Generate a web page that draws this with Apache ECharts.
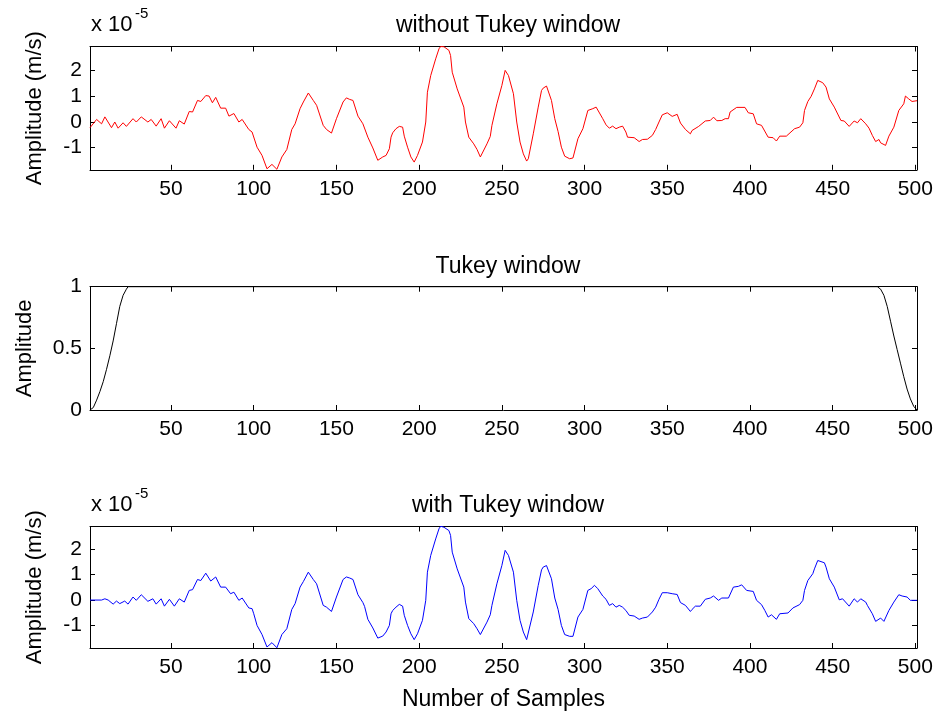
<!DOCTYPE html>
<html>
<head>
<meta charset="utf-8">
<script src="https://cdn.jsdelivr.net/npm/echarts@6/dist/echarts.min.js"></script>
<style>
html,body{margin:0;padding:0;background:#fff;}
#chart{width:939px;height:716px;}
</style>
</head>
<body>
<div id="chart"></div>
<script>
// ---- Data (amplitudes in units of 1e-5 m/s) ----
const rawSamples = [1,5,8,10,14,16,18,21,23,27,29,32,36,38,41,44,46,49,53,55,58,61,63,66,68,71,73,75,77,80,83,85,88,91,93,97,99,102,105,108,111,114,117,120,123,125,128,130,133,136,138,142,144,147,150,154,156,158,160,163,166,167,169,172,175,178,180,182,183,184,186,188,190,191,193,195,197,199,202,204,205,207,210,212,213,215,218,219,220,223,227,228,230,233,235,237,238,241,243,244,247,250,252,254,257,259,261,263,265,266,269,272,274,275,277,278,280,282,284,286,288,291,293,296,299,302,305,307,311,313,315,317,319,321,323,325,326,330,333,335,338,341,343,345,347,350,353,356,358,361,364,365,369,373,376,378,380,383,385,387,388,392,397,399,402,404,407,411,414,416,418,422,427,430,432,433,435,437,439,441,444,446,448,451,455,457,460,463,465,467,470,472,474,476,478,479,482,484,487,490,493,494,496,498,499,501];
const rawAmp = [-0.23,0.09,-0.08,0.19,-0.23,-0.01,-0.25,-0.04,-0.18,0.12,-0.01,0.19,-0.01,0.09,-0.17,0.12,-0.25,0.04,-0.25,0.04,-0.09,0.40,0.38,0.83,0.79,1.02,1.0,0.74,0.95,0.53,0.53,0.22,0.32,-0.01,0.09,-0.30,-0.40,-0.99,-1.31,-1.83,-1.66,-1.85,-1.37,-1.08,-0.30,-0.08,0.51,0.77,1.12,0.83,0.64,-0.14,-0.30,-0.44,0.12,0.77,0.93,0.87,0.83,0.22,-0.08,-0.14,-0.6,-1.02,-1.5,-1.37,-1.31,-1.05,-0.6,-0.43,-0.27,-0.18,-0.21,-0.56,-0.99,-1.37,-1.57,-1.31,-0.79,-0.01,1.15,1.8,2.45,2.84,2.93,2.92,2.78,2.58,1.93,1.28,0.57,-0.01,-0.6,-0.86,-1.08,-1.37,-1.34,-0.86,-0.57,-0.14,0.70,1.41,2.0,1.8,1.09,-0.01,-0.79,-1.25,-1.53,-1.44,-0.47,0.57,1.22,1.31,1.39,1.35,0.83,0.12,-0.38,-0.99,-1.34,-1.44,-1.41,-0.66,-0.27,0.44,0.51,0.57,0.12,-0.12,-0.25,-0.17,-0.27,-0.21,-0.17,-0.40,-0.6,-0.62,-0.77,-0.69,-0.68,-0.53,-0.30,-0.01,0.27,0.35,0.21,0.29,-0.05,-0.30,-0.47,-0.34,-0.18,0.03,0.05,0.18,0.04,0.05,0.12,0.12,0.38,0.56,0.56,0.35,0.31,-0.08,-0.14,-0.60,-0.62,-0.75,-0.56,-0.56,-0.27,-0.21,-0.04,0.44,0.79,0.99,1.28,1.61,1.52,1.35,0.89,0.57,0.05,0.03,-0.18,0.03,-0.04,0.12,-0.08,-0.25,-0.53,-0.77,-0.69,-0.82,-0.92,-0.56,-0.21,0.44,0.70,1.0,0.89,0.79,0.86,0.82];

const winSamples = [1,3,5,7,9,11,13,15,17,19,21,23,24,477,479,481,483,485,487,489,491,493,495,497,499,501];
const winAmp = [0,0.02,0.08,0.15,0.23,0.33,0.44,0.56,0.70,0.84,0.93,0.98,1.0,1.0,0.98,0.93,0.84,0.72,0.60,0.49,0.38,0.27,0.17,0.09,0.03,0];

const tapSamples = [1,8,10,12,15,17,19,22,24,27,29,32,36,39,41,44,46,49,52,55,58,61,63,66,68,71,72,74,77,80,83,86,88,91,93,97,99,100,102,105,108,111,114,117,120,123,125,128,130,133,136,138,142,144,147,150,154,156,158,160,163,166,167,169,172,175,178,180,182,183,184,186,188,190,191,193,195,197,199,202,204,205,207,210,212,213,215,218,219,220,223,227,228,230,233,235,237,238,241,243,244,247,250,252,254,257,259,261,263,265,266,269,272,274,275,277,278,280,282,284,286,288,291,293,296,299,302,304,306,308,311,313,315,317,319,321,323,325,327,330,333,335,338,341,343,345,347,350,353,356,358,361,364,365,367,370,373,376,378,381,383,387,390,393,395,398,402,404,407,409,411,413,416,418,423,426,430,432,433,435,438,439,441,445,446,448,451,454,456,460,463,465,467,470,471,474,476,479,481,484,487,490,492,495,497,501];
const tapAmp = [0,0,0.05,0,-0.16,-0.04,-0.14,-0.04,-0.16,0.12,-0.01,0.21,-0.05,0.05,-0.16,0.05,-0.24,0.03,-0.24,0.05,-0.08,0.38,0.41,0.81,0.77,1.06,1.04,0.75,0.91,0.51,0.51,0.25,0.31,-0.01,0.08,-0.31,-0.34,-0.54,-1.0,-1.36,-1.85,-1.68,-1.88,-1.36,-1.13,-0.37,-0.14,0.51,0.73,1.1,0.81,0.64,-0.21,-0.28,-0.45,0.12,0.81,0.91,0.87,0.81,0.21,-0.1,-0.25,-0.76,-1.1,-1.5,-1.42,-1.26,-1.0,-0.54,-0.41,-0.28,-0.17,-0.24,-0.6,-1.0,-1.33,-1.56,-1.33,-0.8,-0.01,1.1,1.76,2.41,2.81,2.91,2.87,2.74,2.55,1.89,1.23,0.51,-0.08,-0.73,-0.93,-1.13,-1.36,-1.33,-0.87,-0.58,-0.21,0.64,1.36,1.96,1.76,1.1,-0.01,-0.8,-1.26,-1.56,-1.5,-0.47,0.58,1.19,1.3,1.36,1.33,0.84,0.08,-0.37,-1.0,-1.36,-1.43,-1.43,-0.67,-0.37,0.38,0.45,0.58,0.45,0.16,0.03,-0.21,-0.14,-0.28,-0.21,-0.28,-0.41,-0.6,-0.63,-0.76,-0.71,-0.67,-0.47,-0.28,0.03,0.29,0.29,0.25,0.22,-0.1,-0.21,-0.45,-0.37,-0.24,-0.24,0.03,0.08,0.16,-0.01,0.08,0.08,0.51,0.54,0.6,0.38,0.34,-0.01,-0.18,-0.41,-0.67,-0.58,-0.76,-0.54,-0.51,-0.31,-0.18,-0.01,0.38,0.77,1.04,1.23,1.56,1.47,1.3,0.84,0.51,0.01,0.05,-0.24,0.05,-0.08,0.05,-0.08,-0.21,-0.54,-0.84,-0.71,-0.84,-0.41,-0.08,0.21,0.16,0.12,-0.01,-0.01];

const xTicks = [50,100,150,200,250,300,350,400,450,500];
const ampTicks = [-1,0,1,2];
const winTicks = [0,0.5,1];

const titles = ['without Tukey window','Tukey window','with Tukey window'];
const yNames = ['Amplitude (m/s)','Amplitude','Amplitude (m/s)'];
const xName = 'Number of Samples';

// ---- Chart ----
const FONT = '"Liberation Sans", Arial, Helvetica, sans-serif';
const zip = (a, b) => a.map((v, i) => [v, b[i]]);

const grids = [
  {left: 90, right: 22, top: 46.5, height: 123.3},
  {left: 90, right: 22, top: 286.7, height: 123.3},
  {left: 90, right: 22, top: 526.5, height: 121.5}
];
const yRanges = [[-1.87, 2.93], [0, 1], [-1.89, 2.90]];
const yTickSets = [ampTicks, winTicks, ampTicks];
const nameGaps = [44, 54, 44];

const xAxes = [], yAxes = [];
grids.forEach((g, i) => {
  const axLine = {show: true, onZero: false, lineStyle: {color: '#000', width: 1}};
  xAxes.push({
    type: 'value', gridIndex: i, position: 'bottom', min: 1, max: 501,
    axisLine: axLine, splitLine: {show: false},
    axisTick: {inside: true, length: 5, customValues: xTicks, lineStyle: {color: '#000'}},
    axisLabel: {customValues: xTicks, color: '#000', fontSize: 21, fontFamily: FONT, margin: 9},
    name: i === 2 ? xName : '', nameLocation: 'middle', nameGap: 40,
    nameTextStyle: {color: '#000', fontSize: 23, fontFamily: FONT}
  });
  xAxes.push({
    type: 'value', gridIndex: i, position: 'top', min: 1, max: 501,
    axisLine: axLine, splitLine: {show: false},
    axisTick: {inside: true, length: 5, customValues: xTicks, lineStyle: {color: '#000'}},
    axisLabel: {show: false}
  });
  const yt = yTickSets[i];
  yAxes.push({
    type: 'value', gridIndex: i, position: 'left', min: yRanges[i][0], max: yRanges[i][1],
    axisLine: axLine, splitLine: {show: false},
    axisTick: {inside: true, length: 5, customValues: yt, lineStyle: {color: '#000'}},
    axisLabel: {customValues: yt, color: '#000', fontSize: 21, fontFamily: FONT, margin: 8},
    name: yNames[i], nameLocation: 'middle', nameGap: nameGaps[i], nameRotate: 90,
    nameTextStyle: {color: '#000', fontSize: 22, fontFamily: FONT}
  });
  yAxes.push({
    type: 'value', gridIndex: i, position: 'right', min: yRanges[i][0], max: yRanges[i][1],
    axisLine: axLine, splitLine: {show: false},
    axisTick: {inside: true, length: 5, customValues: yt, lineStyle: {color: '#000'}},
    axisLabel: {show: false}
  });
});

const titleTops = [9, 250, 489];
const title = titles.map((t, i) => ({
  text: t, left: 503, top: titleTops[i], textAlign: 'center',
  textStyle: {color: '#000', fontSize: 23, fontWeight: 'normal', fontFamily: FONT}
}));

function expo(y) {
  return [
    {type: 'text', left: 91, top: y, style: {text: 'x 10', fill: '#000', font: '22px ' + FONT}},
    {type: 'text', left: 135, top: y - 8, style: {text: '-5', fill: '#000', font: '15px ' + FONT}}
  ];
}

const option = {
  animation: false,
  backgroundColor: '#fff',
  title: title,
  grid: grids,
  xAxis: xAxes,
  yAxis: yAxes,
  graphic: [].concat(expo(14), expo(494)),
  series: [
    {type: 'line', xAxisIndex: 0, yAxisIndex: 0, data: zip(rawSamples, rawAmp), showSymbol: false, silent: true,
     lineStyle: {color: '#ff0000', width: 1}},
    {type: 'line', xAxisIndex: 2, yAxisIndex: 2, data: zip(winSamples, winAmp), showSymbol: false, silent: true,
     lineStyle: {color: '#000000', width: 1}},
    {type: 'line', xAxisIndex: 4, yAxisIndex: 4, data: zip(tapSamples, tapAmp), showSymbol: false, silent: true,
     lineStyle: {color: '#0000ff', width: 1}}
  ]
};

const chart = echarts.init(document.getElementById('chart'), null, {renderer: 'canvas'});
chart.setOption(option);
</script>
</body>
</html>
